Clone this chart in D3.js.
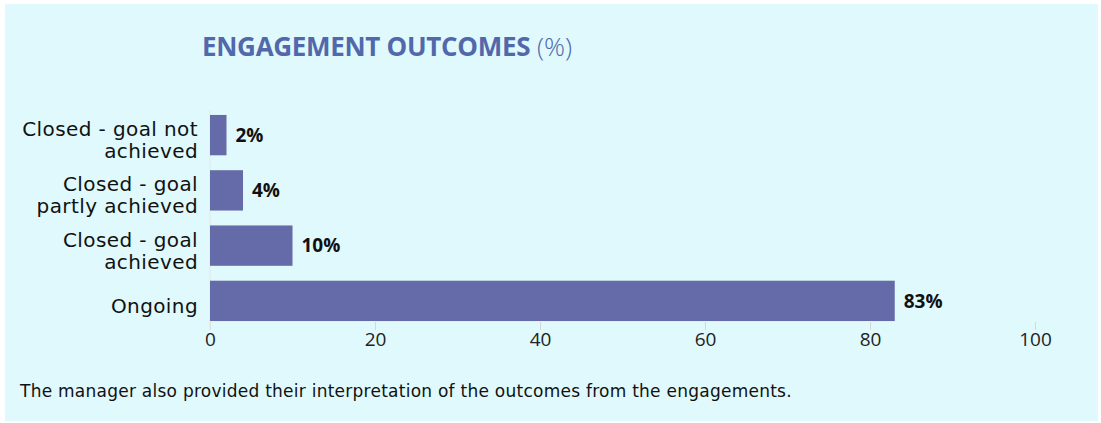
<!DOCTYPE html>
<html>
<head>
<meta charset="utf-8">
<script src="https://cdn.jsdelivr.net/npm/d3@7"></script>
<style>
  body { margin: 0; background: #fff; font-family: "Open Sans", sans-serif; }
  .tick text { font-family: "Open Sans", sans-serif; }
  .label { font-family: "DejaVu Sans", sans-serif; }
</style>
</head>
<body>
<div id="chart"></div>
<script>
// values
const categories = ["Closed - goal not achieved", "Closed - goal partly achieved", "Closed - goal achieved", "Ongoing"];
const categoryLines = [["Closed - goal not", "achieved"], ["Closed - goal", "partly achieved"], ["Closed - goal", "achieved"], ["Ongoing"]];
const percentages = [2, 4, 10, 83];
const xTicks = [0, 20, 40, 60, 80, 100];

const widthWithMargin = 1101;
const heightWithMargin = 423;

const svg = d3.select("#chart").append("svg")
    .attr("width", widthWithMargin)
    .attr("height", heightWithMargin);

// panel
svg.append("rect")
    .attr("x", 5).attr("y", 4)
    .attr("width", 1093).attr("height", 417)
    .attr("fill", "#e0f9fd");

// title
const title = svg.append("text")
    .attr("x", 202)
    .attr("y", 56)
    .attr("fill", "#5169ab")
    .style("font-size", "26px");
title.append("tspan").attr("font-weight", 700).attr("letter-spacing", "-0.3").text("ENGAGEMENT OUTCOMES");
title.append("tspan").attr("font-weight", 300).text(" (%)");

const xScale = d3.scaleLinear()
    .domain([0, 100])
    .range([210, 1035]);

const yScale = d3.scaleBand()
    .domain(categories)
    .range([107.5, 328.5])
    .paddingInner(0.27)
    .paddingOuter(0.135);

// axis
const xAxis = svg.append("g")
    .attr("transform", "translate(0,322)")
    .call(d3.axisBottom(xScale).tickValues(xTicks).tickSize(8).tickPadding(3));
xAxis.select(".domain").remove();
xAxis.selectAll(".tick line").attr("stroke", "#d6d6d6");
xAxis.selectAll(".tick text")
    .attr("fill", "#222")
    .style("font-size", "19px");

// zero line
svg.append("line")
    .attr("x1", xScale(0)).attr("x2", xScale(0))
    .attr("y1", 110).attr("y2", 330)
    .attr("stroke", "#e6e6e6");

// bars
svg.append("g")
    .selectAll("rect")
    .data(categories)
    .enter()
    .append("rect")
    .attr("x", xScale(0))
    .attr("y", d => yScale(d))
    .attr("width", (d, i) => xScale(percentages[i]) - xScale(0))
    .attr("height", yScale.bandwidth())
    .attr("fill", "#646ba8");

// value labels
svg.append("g")
    .selectAll("text")
    .data(categories)
    .enter()
    .append("text")
    .attr("x", (d, i) => xScale(percentages[i]) + 9)
    .attr("y", d => yScale(d) + yScale.bandwidth() / 2)
    .attr("dy", "0.35em")
    .attr("font-weight", 700)
    .attr("fill", "#111")
    .style("font-size", "19px")
    .text((d, i) => percentages[i] + "%");

// category labels, one text per wrapped line
const lineHeight = 22;
categories.forEach((d, i) => {
    const lines = categoryLines[i];
    const mid = yScale(d) + yScale.bandwidth() / 2 + 5;
    const top = mid - (lines.length - 1) * lineHeight / 2;
    svg.append("g")
        .selectAll("text")
        .data(lines)
        .enter()
        .append("text")
        .attr("class", "label")
        .attr("text-anchor", "end")
        .attr("x", 198)
        .attr("y", (t, j) => top + j * lineHeight)
        .attr("dy", "0.35em")
        .attr("fill", "#111")
        .attr("letter-spacing", "0.4")
        .style("font-size", "20px")
        .text(t => t);
});

// footer note
svg.append("text")
    .attr("class", "label")
    .attr("x", 20)
    .attr("y", 397)
    .attr("fill", "#111")
    .attr("letter-spacing", "0.25")
    .style("font-size", "17px")
    .text("The manager also provided their interpretation of the outcomes from the engagements.");
</script>
</body>
</html>
